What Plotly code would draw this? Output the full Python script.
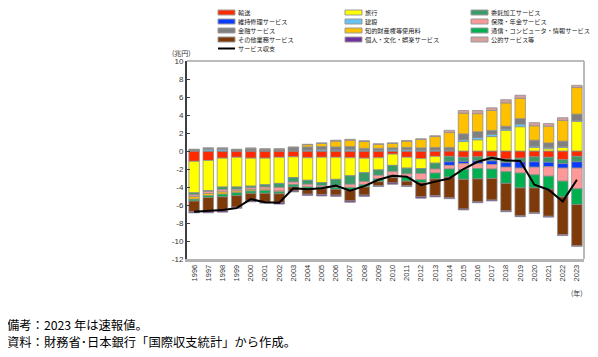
import plotly.graph_objects as go

years = ["1996", "1997", "1998", "1999", "2000", "2001", "2002", "2003", "2004", "2005",
         "2006", "2007", "2008", "2009", "2010", "2011", "2012", "2013", "2014", "2015",
         "2016", "2017", "2018", "2019", "2020", "2021", "2022", "2023"]

transport = [-1.15, -1.05, -0.80, -0.70, -0.80, -0.80, -0.70, -0.65, -0.75, -0.70,
             -0.70, -0.75, -0.80, -0.75, -0.35, -0.70, -0.85, -0.60, -0.60, -0.70,
             -0.65, -0.65, -0.90, -0.80, -0.65, -0.70, -0.95, -0.60]
travel = [-3.50, -3.35, -3.20, -3.30, -3.10, -2.95, -2.90, -2.30, -2.50, -2.80,
          -2.45, -2.00, -1.60, -1.35, -1.25, -1.20, -1.10, -0.75, 0.05, 1.05,
          1.25, 1.60, 2.30, 2.70, 0.40, 0.25, 0.40, 3.30]
processing = [-0.22, -0.10, -0.30, -0.25, -0.20, -0.25, -0.45, -0.50, -0.45, -0.35,
              -0.70, -0.95, -1.00, -0.60, -0.70, -0.65, -0.55, -0.65, -0.60, -0.45,
              -0.45, -0.45, -0.40, -0.40, -0.55, -0.55, -0.45, -0.60]
repair = [0, 0, 0, 0, 0, 0, 0, 0, 0, 0,
          0, 0, 0, 0, 0, 0, 0, 0, -0.40, -0.25,
          -0.30, -0.40, -0.50, -0.70, -0.60, -0.50, -0.50, -0.70]
construction = [0.05, 0.20, 0.20, 0.05, 0.05, 0.05, 0.05, 0.05, 0.10, 0.15,
                0.10, 0.15, 0.10, 0.10, 0.15, 0.15, 0.10, 0.10, 0.05, 0.20,
                0.25, 0.25, 0.15, 0.30, 0.15, 0.15, 0.10, 0.10]
insurance = [-0.19, -0.22, -0.25, -0.20, -0.20, -0.25, -0.40, -0.30, -0.30, -0.15,
             -0.20, -0.35, -0.35, -0.40, -0.40, -0.35, -0.70, -0.45, -0.40, -0.65,
             -0.55, -0.50, -0.50, -0.55, -0.85, -1.05, -1.45, -2.30]
finance = [0.10, 0.10, 0.10, 0.10, 0.20, 0.15, 0.15, 0.30, 0.35, 0.35,
           0.35, 0.35, 0.20, 0.20, 0.20, 0.25, 0.25, 0.30, 0.30, 0.65,
           0.65, 0.45, 0.30, 0.60, 0.65, 0.50, 0.60, 0.70]
ip_fees = [-0.30, -0.25, -0.25, -0.20, -0.15, -0.15, -0.10, 0.05, 0.25, 0.35,
           0.65, 0.70, 0.75, 0.45, 0.50, 0.70, 0.95, 1.20, 1.65, 2.30,
           2.00, 2.20, 2.60, 2.25, 1.60, 1.85, 2.30, 2.95]
ict = [-0.20, -0.20, -0.30, -0.30, -0.25, -0.30, -0.20, -0.25, -0.30, -0.20,
       -0.20, -0.30, -0.25, -0.30, -0.25, -0.45, -0.30, -0.65, -0.90, -1.10,
       -1.15, -1.05, -1.30, -1.65, -1.45, -1.45, -1.75, -1.75]
other_business = [-1.20, -1.55, -1.55, -1.30, -0.85, -1.00, -1.00, -0.45, -0.50, -0.65,
                  -0.65, -1.20, -0.90, -0.45, -0.60, -0.50, -1.60, -1.85, -2.30, -3.30,
                  -2.55, -2.40, -3.05, -3.10, -2.75, -3.00, -4.20, -4.55]
personal = [-0.12, -0.15, -0.15, -0.12, -0.10, -0.10, -0.15, -0.10, -0.15, -0.15,
            -0.15, -0.15, -0.15, -0.10, -0.15, -0.10, -0.15, -0.15, -0.10, -0.10,
            -0.10, -0.10, -0.10, -0.10, -0.10, -0.10, -0.10, -0.10]
government = [0.05, 0.05, 0.05, 0.05, 0.10, 0.05, 0.05, 0.05, 0.05, 0.05,
              0.10, 0.10, 0.10, 0.05, 0.05, 0.05, 0.05, 0.10, 0.25, 0.30,
              0.35, 0.30, 0.35, 0.35, 0.35, 0.30, 0.30, 0.25]
services_balance = [-6.75, -6.65, -6.55, -6.35, -5.35, -5.70, -5.75, -4.15, -4.25, -4.15,
                    -3.85, -4.40, -3.90, -3.20, -2.75, -2.85, -3.80, -3.40, -3.05, -2.00,
                    -1.20, -0.75, -1.05, -1.10, -3.75, -4.30, -5.60, -3.20]

series = [
    ("輸送", transport, "#ff2a00"),
    ("旅行", travel, "#ffff00"),
    ("委託加工サービス", processing, "#3a9a68"),
    ("維持修理サービス", repair, "#0a3cff"),
    ("建設", construction, "#66c4f5"),
    ("保険・年金サービス", insurance, "#ff9999"),
    ("金融サービス", finance, "#808080"),
    ("知的財産権等使用料", ip_fees, "#ffc000"),
    ("通信・コンピュータ・情報サービス", ict, "#00b050"),
    ("その他業務サービス", other_business, "#7f3a0a"),
    ("個人・文化・娯楽サービス", personal, "#7030a0"),
    ("公的サービス等", government, "#d4a0a0"),
]
line_name = "サービス収支"

y_ticks = [10, 8, 6, 4, 2, 0, -2, -4, -6, -8, -10, -12]
y_tick_labels = ["10", "8", "6", "4", "2", "0", "-2", "-4", "-6", "-8", "-10", "-12"]

# page body has an 8px margin: the figure starts at screen (8, 8)
OFF = 8
SW, SH = 598, 357                 # screen size
W, H = SW - OFF, SH - OFF         # figure size
SL, SR, ST, SB = 187, 584, 61, 259  # plot area in screen pixels
L, T = SL - OFF, ST - OFF
R = W - (SR - OFF)
B = H - (SB - OFF)
PW, PH = W - L - R, H - T - B


def px(x):
    """screen x -> paper"""
    return (x - OFF - L) / PW


def py(y):
    """screen y -> paper"""
    return (H - B - (y - OFF)) / PH


JP = "Noto Sans CJK JP"
NUM = "Liberation Sans, Arial, sans-serif"

fig = go.Figure()
for name, vals, color in series:
    fig.add_trace(go.Bar(
        x=years, y=vals, name=name, showlegend=False,
        marker=dict(color=color, line=dict(color="rgba(140,140,140,0.75)", width=1)),
    ))
fig.add_trace(go.Scatter(
    x=years, y=services_balance, name=line_name, mode="lines", showlegend=False,
    line=dict(color="black", width=2),
))

shapes = []
annotations = []

# frame (top and right)
shapes.append(dict(type="line", xref="paper", yref="paper", x0=0, x1=1, y0=1, y1=1,
                   line=dict(color="#a6a6a6", width=1.5)))
shapes.append(dict(type="line", xref="paper", yref="paper", x0=1, x1=1, y0=0, y1=1,
                   line=dict(color="#a6a6a6", width=1.5)))

# custom legend (3 columns)
col_x = [218, 345, 471]
row_y = [12.5, 21.5, 30.5, 39.5, 48.5]
sw_w = 17
LEG_FS = 6.2
for i, (name, _, color) in enumerate(series):
    c, r = i % 3, i // 3
    x0 = col_x[c]
    yc = row_y[r]
    shapes.append(dict(type="rect", xref="paper", yref="paper",
                       x0=px(x0), x1=px(x0 + sw_w), y0=py(yc + 2.5), y1=py(yc - 2.5),
                       fillcolor=color, line=dict(color="#9a9a9a", width=1)))
    annotations.append(dict(text=name, xref="paper", yref="paper", x=px(x0 + sw_w + 2),
                            y=py(yc), xanchor="left", yanchor="middle", showarrow=False,
                            borderpad=0,
                            font=dict(family=JP, size=LEG_FS, color="#222")))
shapes.append(dict(type="line", xref="paper", yref="paper",
                   x0=px(col_x[0]), x1=px(col_x[0] + sw_w), y0=py(row_y[4]), y1=py(row_y[4]),
                   line=dict(color="black", width=2)))
annotations.append(dict(text=line_name, xref="paper", yref="paper", x=px(col_x[0] + sw_w + 2),
                        y=py(row_y[4]), xanchor="left", yanchor="middle", showarrow=False,
                        borderpad=0,
                        font=dict(family=JP, size=LEG_FS, color="#222")))

# axis unit labels
annotations.append(dict(text="(兆円)", xref="paper", yref="paper", x=px(181), y=py(53),
                        xanchor="center", yanchor="middle", showarrow=False,
                        font=dict(family=JP, size=7, color="#333")))
annotations.append(dict(text="(年)", xref="paper", yref="paper", x=px(577), y=py(293),
                        xanchor="center", yanchor="middle", showarrow=False,
                        font=dict(family=JP, size=7, color="#333")))

# notes
annotations.append(dict(text="備考：2023 年は速報値。", xref="paper", yref="paper", x=px(5), y=py(325),
                        xanchor="left", yanchor="middle", showarrow=False,
                        font=dict(family=JP, size=12.3, color="black")))
annotations.append(dict(text="資料：財務省･日本銀行「国際収支統計」から作成。", xref="paper", yref="paper",
                        x=px(5), y=py(342), xanchor="left", yanchor="middle", showarrow=False,
                        font=dict(family=JP, size=12.3, color="black")))

fig.update_layout(
    width=W, height=H,
    margin=dict(l=L, r=R, t=T, b=B, autoexpand=False),
    paper_bgcolor="white", plot_bgcolor="white",
    barmode="relative", bargap=0.26,
    showlegend=False,
    xaxis=dict(type="category", range=[-0.5, 27.5], tickangle=-90, ticks="",
               tickfont=dict(family=NUM, size=7.5, color="#333"),
               showline=True, linecolor="#b4b4b4", linewidth=2.5, showgrid=False, zeroline=False),
    xaxis2=dict(overlaying="x", anchor="free", position=12 / 22, range=[-0.5, 27.5],
                type="linear", tick0=-0.5, dtick=1, ticks="inside", ticklen=2.5,
                tickcolor="#505050", tickwidth=1, showticklabels=False,
                showline=True, linecolor="#707070", linewidth=1, showgrid=False, zeroline=False),
    yaxis=dict(range=[-12, 10], tickvals=y_ticks, ticktext=y_tick_labels,
               ticks="inside", ticklen=3, tickcolor="#404040",
               tickfont=dict(family=NUM, size=8, color="#333"),
               showline=True, linecolor="#404040", linewidth=2, showgrid=False, zeroline=False),
    shapes=shapes,
    annotations=annotations,
)

fig.write_html("out.html")
